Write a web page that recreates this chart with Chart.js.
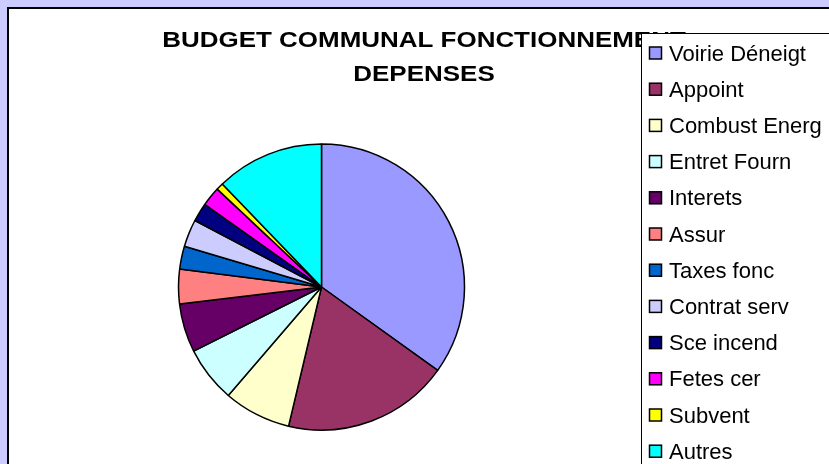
<!DOCTYPE html>
<html>
<head>
<meta charset="utf-8">
<title>Budget communal</title>
<script src="https://cdn.jsdelivr.net/npm/chart.js@4/dist/chart.umd.min.js"></script>
<style>
  html, body { margin:0; padding:0; background:#ccccff; overflow:hidden; }
  #budget { display:block; }
</style>
</head>
<body>
<canvas id="budget" width="829" height="464"></canvas>
<script>
// Data (percent of total)
const labels = ["Voirie Déneigt","Appoint","Combust Energ","Entret Fourn","Interets","Assur","Taxes fonc","Contrat serv","Sce incend","Fetes cer","Subvent","Autres"];
const values = [34.9, 18.8, 7.6, 6.3, 5.5, 3.9, 2.6, 3.1, 2.1, 2.2, 0.8, 12.2];
const colors = ["#9999ff","#993366","#ffffcc","#ccffff","#660066","#ff8080","#0066cc","#ccccff","#000080","#ff00ff","#ffff00","#00ffff"];
const titleLines = ["BUDGET COMMUNAL FONCTIONNEMENT", "DEPENSES"];

// Frame: lavender surround, white plot area with black border
const framePlugin = {
  id: "frame",
  beforeDraw(chart){
    const ctx = chart.ctx;
    ctx.save();
    ctx.fillStyle = "#ccccff"; ctx.fillRect(0,0,chart.width,chart.height);
    ctx.fillStyle = "#ffffff"; ctx.fillRect(8,8,chart.width,chart.height);
    ctx.strokeStyle = "#000"; ctx.lineWidth = 2;
    ctx.strokeRect(8,8,chart.width+20,chart.height+20);
    ctx.restore();
  }
};

// Title (slightly stretched like the original) and boxed legend on top of it
const overlayPlugin = {
  id: "overlay",
  afterDraw(chart){
    const ctx = chart.ctx;
    ctx.save();
    ctx.fillStyle = "#000";
    ctx.font = "bold 22px 'Liberation Sans', Arial, sans-serif";
    ctx.textAlign = "center"; ctx.textBaseline = "alphabetic";
    const cx = 424, sx = 1.18;
    [46.5, 81].forEach((y,i) => {
      ctx.save(); ctx.translate(cx, y); ctx.scale(sx, 1);
      ctx.fillText(titleLines[i], 0, 0); ctx.restore();
    });

    // legend box
    ctx.fillStyle = "#fff"; ctx.fillRect(641,33,chart.width,chart.height);
    ctx.strokeStyle = "#000"; ctx.lineWidth = 1;
    ctx.strokeRect(641.5,33.5,chart.width,chart.height);

    ctx.font = "22px 'Liberation Sans', Arial, sans-serif";
    ctx.textAlign = "left";
    const ds = chart.data.datasets[0];
    chart.data.labels.forEach((lab,i) => {
      const base = 60.5 + i*36.2;
      ctx.fillStyle = ds.backgroundColor[i];
      ctx.fillRect(649.5, base-13.5, 12, 12);
      ctx.strokeStyle = "#000"; ctx.lineWidth = 1.5;
      ctx.strokeRect(649.5, base-13.5, 12, 12);
      ctx.fillStyle = "#000";
      ctx.fillText(lab, 669, base);
    });
    ctx.restore();
  }
};

new Chart(document.getElementById("budget"), {
  type: "pie",
  data: {
    labels: labels,
    datasets: [{ data: values, backgroundColor: colors, borderColor: "#000", borderWidth: 1.5 }]
  },
  options: {
    responsive: false,
    animation: false,
    devicePixelRatio: 1,
    radius: 143,
    layout: { padding: { left: 30, right: 216, top: 110, bottom: 0 } },
    plugins: { legend: { display:false }, title: { display:false }, tooltip: { enabled:false } }
  },
  plugins: [framePlugin, overlayPlugin]
});
</script>
</body>
</html>
